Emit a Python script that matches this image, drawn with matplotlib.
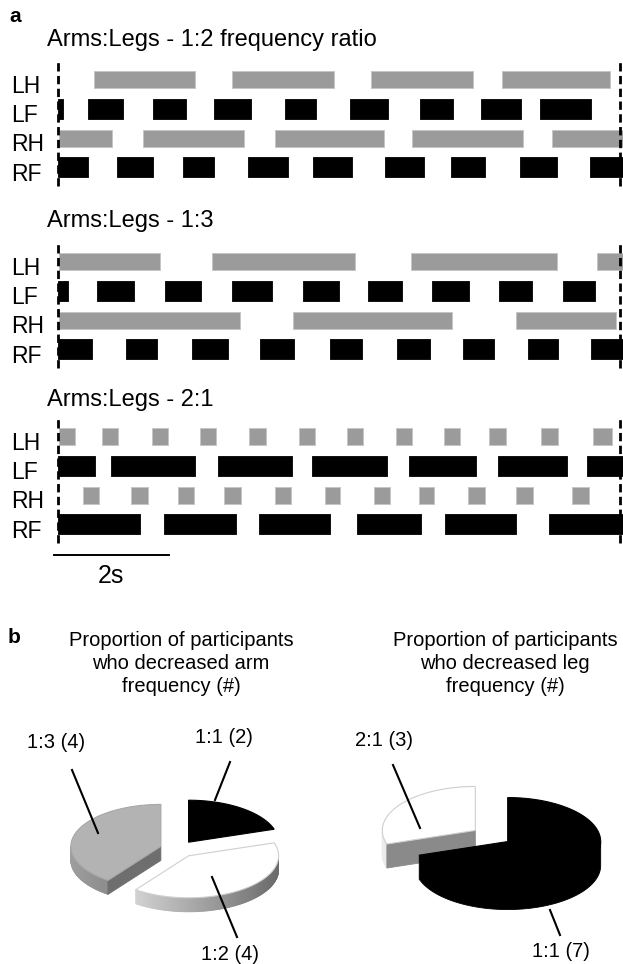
import numpy as np
import matplotlib
matplotlib.use("Agg")
import matplotlib.pyplot as plt
from matplotlib.patches import Polygon

plt.rcParams['font.family'] = ['Liberation Sans', 'DejaVu Sans']

# ---- gait data: stance/swing bars as (start, end) in seconds ----
limbs = ["LH", "LF", "RH", "RF"]
panel_titles = ["Arms:Legs - 1:2 frequency ratio", "Arms:Legs - 1:3", "Arms:Legs - 2:1"]

r12_LH = [(0.63, 2.39), (3.04, 4.81), (5.46, 7.24), (7.74, 9.64)]
r12_LF = [(0.0, 0.08), (0.53, 1.14), (1.65, 2.24), (2.72, 3.36), (3.97, 4.50),
          (5.09, 5.76), (6.31, 6.90), (7.39, 8.08), (8.41, 9.30)]
r12_RH = [(0.02, 0.94), (1.48, 3.25), (3.78, 5.69), (6.17, 8.12), (8.62, 9.86)]
r12_RF = [(0.0, 0.53), (1.03, 1.66), (2.19, 2.73), (3.31, 4.02), (4.45, 5.13),
          (5.70, 6.39), (6.86, 7.46), (8.06, 8.71), (9.29, 9.86)]

r13_LH = [(0.02, 1.78), (2.68, 5.19), (6.16, 8.70), (9.40, 9.86)]
r13_LF = [(0.0, 0.17), (0.68, 1.32), (1.86, 2.50), (3.04, 3.73), (4.28, 4.91),
          (5.41, 6.01), (6.53, 7.17), (7.70, 8.28), (8.81, 9.37)]
r13_RH = [(0.02, 3.17), (4.10, 6.88), (7.99, 9.74)]
r13_RF = [(0.0, 0.60), (1.19, 1.72), (2.33, 2.97), (3.53, 4.12), (4.74, 5.31),
          (5.91, 6.50), (7.07, 7.61), (8.21, 8.73), (9.31, 9.86)]

r21_LH = [(0.02, 0.30), (0.76, 1.04), (1.64, 1.92), (2.47, 2.75), (3.34, 3.63),
          (4.21, 4.48), (5.04, 5.32), (5.90, 6.17), (6.73, 7.01), (7.53, 7.81),
          (8.43, 8.72), (9.34, 9.66)]
r21_LF = [(0.0, 0.64), (0.92, 2.39), (2.79, 4.08), (4.44, 5.74), (6.12, 7.29),
          (7.68, 8.89), (9.23, 9.86)]
r21_RH = [(0.43, 0.71), (1.28, 1.57), (2.10, 2.37), (2.90, 3.19), (3.78, 4.06),
          (4.66, 4.93), (5.52, 5.79), (6.30, 6.57), (7.16, 7.45), (8.00, 8.29),
          (8.97, 9.26)]
r21_RF = [(0.0, 1.43), (1.85, 3.11), (3.51, 4.74), (5.21, 6.34), (6.76, 7.99),
          (8.57, 9.86)]

panels = [
    [r12_LH, r12_LF, r12_RH, r12_RF],
    [r13_LH, r13_LF, r13_RH, r13_RF],
    [r21_LH, r21_LF, r21_RH, r21_RF],
]
trial_end = 9.81      # right dashed marker (s)
scale_len = 2.0       # scale bar (s)

# ---- pie data ----
arm_labels = ["1:1", "1:2", "1:3"]
arm_counts = [2, 4, 4]
leg_labels = ["1:1", "2:1"]
leg_counts = [7, 3]

W, H = 623, 964
fig = plt.figure(figsize=(W / 100, H / 100), dpi=100)


def fx(px):
    return px / W


def fy(py):
    return 1 - py / H


# layout in pixels
x0_px = 58.0
px_per_s = 57.3
row_px = 29.3
lh_rows_px = [79.5, 261.5, 436.5]
title_base_px = [46, 227, 406]

gray = "#9b9b9b"
for p, (bars, lh_px) in enumerate(zip(panels, lh_rows_px)):
    bottom_px = lh_px + 4 * row_px
    ax = fig.add_axes([0, fy(bottom_px), 1, 5 * row_px / H])
    ax.set_xlim(-x0_px / px_per_s, (W - x0_px) / px_per_s)
    ax.set_ylim(-1, 4)
    ax.axis("off")
    for i, (limb, segs) in enumerate(zip(limbs, bars)):
        y = 3 - i
        if limb.endswith("H"):
            h, fc, ec = 0.58, gray, "#c4c4c4"
        else:
            h, fc, ec = 0.68, "black", "black"
        ax.broken_barh([(s, e - s) for s, e in segs], (y - h / 2, h),
                       facecolors=fc, edgecolors=ec, linewidth=0.6)
        ax.text(-0.82, y - 0.45, limb, fontsize=16.5, ha="left", va="baseline")
    for xv in (0.0, trial_end):
        ax.plot([xv, xv], [-0.65, 3.65], color="black", lw=2,
                linestyle=(0, (3, 1.6)), clip_on=False)
    fig.text(fx(47), fy(title_base_px[p]), panel_titles[p], fontsize=17,
             ha="left", va="baseline")
    if p == 2:
        ax.plot([-0.07, -0.07 + scale_len], [-1.04, -1.04], color="black",
                lw=1.4, clip_on=False)
        ax.text(-0.07 + scale_len / 2, -2.0, "2s", fontsize=18,
                ha="center", va="baseline")

fig.text(fx(9), fy(22), "a", fontsize=15, fontweight="bold", va="baseline")
fig.text(fx(8), fy(643), "b", fontsize=15, fontweight="bold", va="baseline")

# ---- 3D-looking exploded pies, drawn in pixel space ----
pax = fig.add_axes([0, 0, 1, 1])
pax.set_xlim(0, W)
pax.set_ylim(H, 0)
pax.axis("off")
pax.patch.set_alpha(0)

styles = {
    "black": dict(top="#000000", side=0.0, cut=None, edge="#000000"),
    "white": dict(top="#ffffff", side=0.93, cut="#8a8a8a", edge="#cfcfcf"),
    "gray": dict(top="#b3b3b3", side=0.62, cut="#6e6e6e", edge="#a8a8a8"),
}


def pie3d(counts, colors, cx, cy, rx, ry, depth, explode):
    total = float(sum(counts))
    a1 = 90.0
    wedges = []
    for n, col in zip(counts, colors):
        a2 = a1 - 360.0 * n / total
        b = np.radians((a1 + a2) / 2)
        ox = cx + explode * np.cos(b)
        oy = cy - explode * np.sin(b) * ry / rx
        wedges.append((a1, a2, ox, oy, col))
        a1 = a2
    # back wedges first
    for a1, a2, ox, oy, col in sorted(wedges, key=lambda w: w[3]):
        st = styles[col]
        th = np.radians(np.linspace(a2, a1, 160))
        px = ox + rx * np.cos(th)
        py = oy - ry * np.sin(th)
        front = np.sin(th) <= 0
        if st["side"] == 0 and front.any():
            # plain black rim: one polygon
            fx_, fy_ = px[front], py[front]
            pts = list(zip(fx_, fy_)) + list(zip(fx_[::-1], fy_[::-1] + depth))
            pax.add_patch(Polygon(pts, closed=True, fc="black", ec="black", lw=0.6))
        else:
            # outer rim on the front half, shaded left to right
            for k in range(len(th) - 1):
                tm = (th[k] + th[k + 1]) / 2
                if np.sin(tm) < 0:
                    u = (np.cos(tm) + 1) / 2
                    g = st["side"] * (1 - 0.55 * u)
                    c = (g, g, g)
                    pax.add_patch(Polygon([(px[k], py[k]), (px[k + 1], py[k + 1]),
                                           (px[k + 1], py[k + 1] + depth),
                                           (px[k], py[k] + depth)],
                                          closed=True, fc=c, ec=c, lw=0.6))
        # cut faces facing the viewer
        if st["cut"] is not None:
            for a, vis in ((a1, np.cos(np.radians(a1)) < -1e-6),
                           (a2, np.cos(np.radians(a2)) > 1e-6)):
                if vis:
                    ex = ox + rx * np.cos(np.radians(a))
                    ey = oy - ry * np.sin(np.radians(a))
                    pax.add_patch(Polygon([(ox, oy), (ex, ey), (ex, ey + depth),
                                           (ox, oy + depth)], closed=True,
                                          fc=st["cut"], ec=st["cut"], lw=0.6))
        pax.add_patch(Polygon([(ox, oy)] + list(zip(px, py)), closed=True,
                              fc=st["top"], ec=st["edge"], lw=0.8))


pie3d(arm_counts, ["black", "white", "gray"], 178, 849, 90, 42, 14, 18)
pie3d(leg_counts, ["black", "white"], 491.5, 836, 93, 44, 24, 20)

# pie titles
pie_titles = ["Proportion of participants\nwho decreased arm\nfrequency (#)",
              "Proportion of participants\nwho decreased leg\nfrequency (#)"]
for t, xc in zip(pie_titles, (181, 505)):
    pax.text(xc, 631, t, fontsize=14.5, ha="center", va="top",
             multialignment="center", linespacing=1.27)

# slice labels with leader lines
arm_text_xy = [(224, 743), (230, 960), (56, 748)]
arm_leader = [((230, 762), (215, 800)), ((237, 937), (212, 877)), ((72, 770), (98, 833))]
leg_text_xy = [(561, 957), (384, 746)]
leg_leader = [((560, 935), (550, 910)), ((393, 765), (420, 828))]

for labs, cnts, txy, ldr in ((arm_labels, arm_counts, arm_text_xy, arm_leader),
                             (leg_labels, leg_counts, leg_text_xy, leg_leader)):
    for lab, n, (tx, ty), (p1, p2) in zip(labs, cnts, txy, ldr):
        pax.text(tx, ty, f"{lab} ({n})", fontsize=14.5, ha="center", va="baseline")
        pax.plot([p1[0], p2[0]], [p1[1], p2[1]], color="black", lw=1.5)

fig.savefig("out.png", dpi=100)
